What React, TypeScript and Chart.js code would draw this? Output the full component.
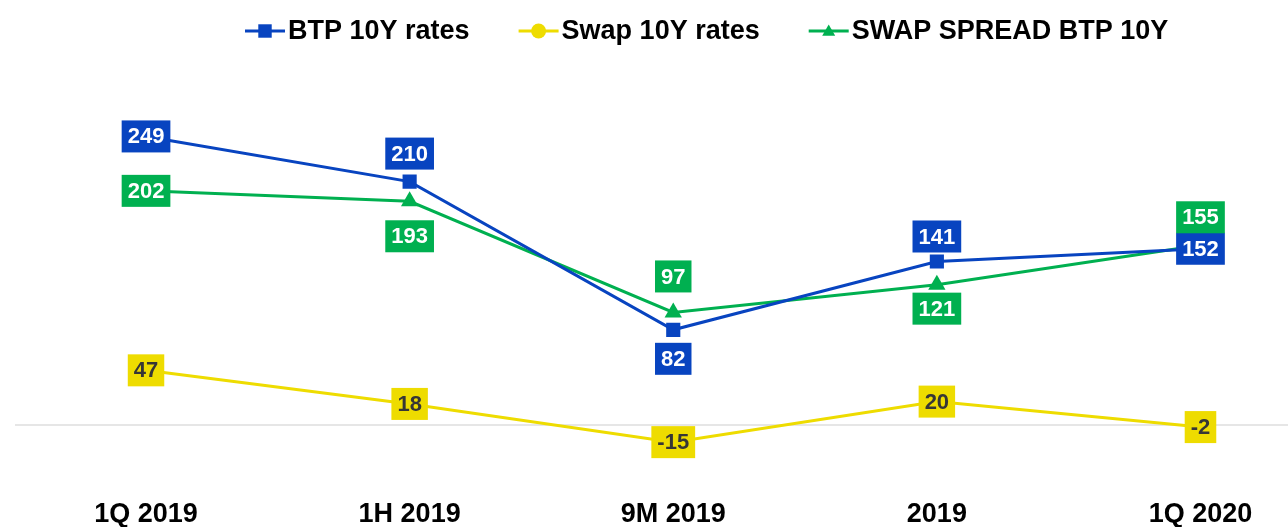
import React, { useEffect, useRef } from 'react';
import { Chart, registerables } from 'chart.js';
import { drawPoint } from 'chart.js/helpers';

Chart.register(...registerables);

// ---- data ----
const CATEGORIES = ['1Q 2019', '1H 2019', '9M 2019', '2019', '1Q 2020'];
const BTP_10Y = [249, 210, 82, 141, 152];
const SWAP_10Y = [47, 18, -15, 20, -2];
const SWAP_SPREAD = [202, 193, 97, 121, 155];
const SERIES_NAMES = ['BTP 10Y rates', 'Swap 10Y rates', 'SWAP SPREAD BTP 10Y'];

// ---- styles ----
const BLUE = '#0844c0';
const YELLOW = '#eedc00';
const GREEN = '#00b050';
const FONT = '"Liberation Sans", Arial, sans-serif';
// vertical offset (px) of each value box from its point (negative = above)
const LABEL_OFFSETS = [
  [0, -28, 29, -25, 0],
  [0, 0, 0, 0, 0],
  [0, 35, -36, 24, -28],
];
const LABEL_TEXT = ['#ffffff', '#363636', '#ffffff'];
const COLORS = [BLUE, YELLOW, GREEN];
const MARKERS = ['rect', 'circle', 'triangle'];

const toPoints = (arr: number[]) => arr.map((y, i) => ({ x: i, y }));

const valueBoxes = {
  id: 'valueBoxes',
  afterDatasetsDraw(chart: any) {
    const ctx = chart.ctx;
    ctx.save();
    ctx.font = `bold 22px ${FONT}`;
    ctx.textAlign = 'center';
    ctx.textBaseline = 'middle';
    chart.data.datasets.forEach((ds: any, di: number) => {
      const meta = chart.getDatasetMeta(di);
      meta.data.forEach((pt: any, i: number) => {
        const text = String(ds.data[i].y);
        const w = ctx.measureText(text).width + 12;
        const h = 32;
        const cx = pt.x;
        const cy = pt.y + LABEL_OFFSETS[di][i];
        ctx.fillStyle = COLORS[di];
        ctx.fillRect(cx - w / 2, cy - h / 2, w, h);
        ctx.fillStyle = LABEL_TEXT[di];
        ctx.fillText(text, cx, cy + 1);
      });
    });
    ctx.restore();
  },
};

const lineLegend = {
  id: 'lineLegend',
  afterDraw(chart: any) {
    const ctx = chart.ctx;
    ctx.save();
    ctx.font = `bold 27px ${FONT}`;
    ctx.textBaseline = 'middle';
    ctx.textAlign = 'left';
    let x = 245;
    const y = 31;
    SERIES_NAMES.forEach((name, i) => {
      ctx.strokeStyle = COLORS[i];
      ctx.fillStyle = COLORS[i];
      ctx.lineWidth = 3;
      ctx.beginPath();
      ctx.moveTo(x, y);
      ctx.lineTo(x + 40, y);
      ctx.stroke();
      drawPoint(ctx, { pointStyle: MARKERS[i], radius: i === 0 ? 9.5 : 7.5, borderWidth: 0, rotation: 0 } as any, x + 20, y + (i === 2 ? 1 : 0));
      ctx.fillStyle = '#000000';
      ctx.fillText(name, x + 43, y + 1);
      x += 43 + ctx.measureText(name).width + 49;
    });
    ctx.restore();
  },
};

export default function App() {
  const ref = useRef<HTMLCanvasElement | null>(null);
  useEffect(() => {
    if (!ref.current) return;
    const mk = (idx: number, values: number[], radius: number) => ({
      label: SERIES_NAMES[idx],
      data: toPoints(values),
      borderColor: COLORS[idx],
      backgroundColor: COLORS[idx],
      pointBackgroundColor: COLORS[idx],
      pointBorderColor: COLORS[idx],
      pointBorderWidth: 0,
      pointStyle: MARKERS[idx],
      pointRadius: radius,
      borderWidth: 3,
      tension: 0,
    });
    const chart = new Chart(ref.current, {
      type: 'line',
      data: {
        datasets: [mk(0, BTP_10Y, 10), mk(1, SWAP_10Y, 6), mk(2, SWAP_SPREAD, 10)] as any,
      },
      options: {
        animation: false,
        responsive: false,
        maintainAspectRatio: false,
        layout: { autoPadding: false, padding: { top: 60, left: 15, right: 0, bottom: 0 } },
        plugins: { legend: { display: false }, tooltip: { enabled: false } },
        scales: {
          x: {
            type: 'linear',
            min: -0.497,
            max: 4.332,
            afterBuildTicks: (s: any) => {
              s.ticks = CATEGORIES.map((_, i) => ({ value: i }));
            },
            ticks: {
              callback: (v: any) => CATEGORIES[v as number] ?? '',
              font: { family: FONT, size: 27, weight: 'bold', lineHeight: 0.9 },
              color: '#000000',
              padding: 0,
              autoSkip: false,
              maxRotation: 0,
            },
            grid: { display: false, drawTicks: false },
            border: { display: false },
          },
          y: {
            min: -67.3,
            max: 315,
            afterBuildTicks: (s: any) => {
              s.ticks = [{ value: 0 }];
            },
            ticks: { display: false },
            grid: { color: '#e6e6e6', lineWidth: 2, drawTicks: false },
            border: { display: false },
          },
        },
      } as any,
      plugins: [valueBoxes, lineLegend],
    });
    return () => chart.destroy();
  }, []);
  return (
    <div style={{ position: 'fixed', left: 0, top: 0, width: 1288, height: 527, background: '#fff' }}>
      <canvas ref={ref} width={1288} height={527} style={{ display: 'block' }} />
    </div>
  );
}
